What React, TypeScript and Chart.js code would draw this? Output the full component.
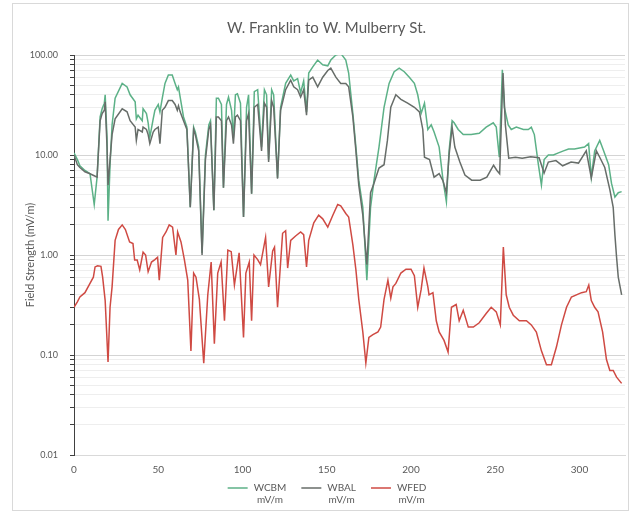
import { useEffect, useRef } from 'react';
import { Chart, registerables } from 'chart.js';

Chart.register(...registerables);

const chartTitle = 'W. Franklin to W. Mulberry St.';
const yAxisTitle = 'Field Strength (mV/m)';
const seriesNames = ['WCBM', 'WBAL', 'WFED'];
const unitLabel = 'mV/m';
const seriesColors = ['#5cb187', '#676d69', '#cf4a43'];
const xTickValues = [0, 50, 100, 150, 200, 250, 300];
const yDecades = [0.01, 0.1, 1, 10, 100];
const yMinorMultipliers = [2, 3, 4, 5, 6, 7, 8, 9];

const wcbmX = [
  0, 2, 3.5, 6.5, 9.5, 12, 13.7, 15.5, 16.7, 18, 18.5, 19.6, 20.2, 21.4, 22.6, 24.4, 28.6, 31.5, 33.3, 36.3,
  37, 38, 40.5, 41, 43, 44, 45, 47, 48, 50, 51, 52.4, 54, 56, 58.3, 60, 61.3, 62, 63, 65,
  67, 69, 71, 72, 74, 76, 78, 80, 81, 83, 84.5, 85.7, 87.5, 88.7, 90.5, 91.7, 93.5, 94.6, 95.8, 97,
  98.8, 100.6, 102.4, 103.6, 105.4, 107, 109, 111.3, 113, 114.3, 115.5, 117.3, 118.5, 120.8, 122.6, 125.6, 128.6, 130.4, 132.7, 134.5,
  136.3, 138, 139.3, 141.7, 144.6, 147.6, 150.6, 152.4, 155.4, 158.3, 161.3, 163, 165.5, 167.3, 169, 171.4, 173.8, 176, 178, 181,
  184, 187, 190, 193, 196, 199, 202, 204, 206, 208, 210, 212, 213.7, 216.7, 219, 221, 222.6, 224.4, 225.6, 228,
  231, 235.7, 240.5, 244.6, 248.8, 250.6, 252.4, 254.2, 255.4, 257.7, 259.5, 262.5, 266.7, 269.6, 271.4, 273.2, 275.6, 277.4, 279, 281.5,
  284.5, 287.5, 290.5, 293.5, 297, 303, 305.4, 307, 309, 312, 314.3, 317.3, 319, 321, 323, 325,
];
const wcbmY = [
  10.5, 9, 7.8, 7.0, 6.5, 3.2, 6, 24, 29, 33, 40, 15, 2.2, 8, 20, 37, 52, 48, 40, 34,
  23, 25, 22, 29, 26, 21, 15, 23, 28, 32, 27, 37, 52, 63, 63, 52, 45, 48, 38, 24,
  19, 3.0, 19, 17, 12, 1.05, 10, 20, 22, 2.8, 37, 37, 32, 4.7, 32, 38, 28, 15, 40, 41,
  33, 2.4, 30, 40, 4.1, 43, 45, 12, 45, 40, 9, 45, 40, 5.9, 30, 52, 63, 55, 58, 42,
  55, 27, 66, 76, 89, 80, 78, 89, 100, 104, 89, 66, 26, 12, 5.6, 3.0, 0.56, 3.0, 5.5, 12,
  30, 52, 68, 74, 68, 60, 52, 40, 26, 33, 18, 20, 17, 12, 5.6, 3.4, 11, 22, 21, 18,
  16, 16, 16.5, 19, 21, 19, 9.5, 71, 30, 20, 18, 19, 18, 18, 19, 16, 8, 5.0, 9, 10,
  10, 10.5, 11, 11.5, 11.5, 12, 13, 6.0, 11, 14, 11, 8, 5.2, 3.8, 4.2, 4.3,
];

const wbalX = [
  0, 2, 3.5, 6.5, 9.5, 12, 13.7, 15.5, 16.7, 18, 18.5, 19.6, 20.2, 21.4, 22.6, 24.4, 28.6, 31.5, 33.3, 36.3,
  37, 38, 40.5, 41, 43, 44, 45, 47, 48, 50, 51, 52.4, 54, 56, 58.3, 60, 61.3, 62, 63, 65,
  67, 69, 71, 72, 74, 76, 78, 80, 81, 83, 84.5, 85.7, 87.5, 88.7, 90.5, 91.7, 93.5, 94.6, 95.8, 97,
  98.8, 100.6, 102.4, 103.6, 105.4, 107, 109, 111.3, 113, 114.3, 115.5, 117.3, 118.5, 120.8, 122.6, 125.6, 128.6, 130.4, 132.7, 134.5,
  136.3, 138, 139.3, 141.7, 144.6, 147.6, 150.6, 152.4, 155.4, 158.3, 161.3, 163, 165.5, 167.3, 169, 171.4, 173.8, 176, 178, 181,
  184, 186, 188, 191, 194, 198, 202, 205, 207, 208, 211, 213.7, 216.7, 219, 221, 222.6, 224.4, 226, 229, 232,
  236, 241, 245, 249, 251, 252.6, 254.6, 256, 258, 262, 266, 271, 276, 279, 281.5, 286, 290, 295, 299.4, 304,
  307, 310, 312, 315, 318, 320, 321, 322, 323, 325,
];
const wbalY = [
  10, 8, 7.5, 6.8, 6.5, 6.2, 6.0, 22, 26, 28, 34, 12, 5, 9, 16, 23, 29, 27, 22, 19,
  14, 18, 17, 19, 18, 16, 13, 17, 18, 19, 13, 28, 30, 35, 35, 32, 28, 31, 27, 22,
  18, 3.0, 18, 16, 11, 1.0, 9, 18, 20, 2.8, 24, 24, 22, 4.7, 22, 24, 20, 13, 24, 25,
  22, 2.4, 22, 26, 4.1, 30, 32, 11, 33, 30, 8.5, 35, 30, 5.8, 28, 45, 56, 48, 45, 38,
  45, 25, 56, 60, 48, 60, 70, 74, 60, 52, 52, 48, 24, 11, 5, 2.5, 0.8, 4.2, 5.2, 7.4,
  8, 14, 30, 40, 36, 33, 30, 27, 18, 9.5, 9, 6, 6.5, 5.5, 4.2, 10, 19, 12, 8.5, 6.3,
  5.6, 5.6, 6, 7.9, 7, 6.5, 66, 20, 9.3, 9.5, 9.3, 9.6, 9.4, 6.6, 8.5, 8.8, 7.8, 8.5, 8.3, 11,
  5.9, 11, 9.5, 7.5, 4.5, 3.0, 1.6, 0.95, 0.6, 0.4,
];

const wfedX = [
  0, 2, 3.5, 6.5, 9.5, 11.5, 12.5, 14, 16, 17, 18.5, 20.2, 21.4, 22.6, 24.4, 26.4, 28.6, 30.5, 33, 35,
  36, 37.5, 39, 41, 42.5, 44, 46, 48, 49.6, 50.6, 52.6, 54.6, 56.5, 58.5, 60.5, 61.5, 63.5, 65.5, 67.5, 69.4,
  71, 72.4, 74.4, 77, 79.4, 81.4, 83.3, 85.3, 87.3, 89.3, 91.3, 93.3, 95.2, 98, 100.6, 102, 104, 105.4, 106.8, 109,
  110.7, 113.7, 115.5, 117.9, 119, 120.8, 123.8, 125.6, 126.8, 128.6, 131.5, 134.5, 136.3, 138, 139.3, 142.3, 145.2, 147.6, 150.6, 153.6,
  156.5, 158.3, 161.3, 163, 165.5, 167.3, 169, 171.4, 173.2, 175, 177.4, 180.4, 182, 184, 186.3, 188, 189.3, 191, 194, 197,
  200, 202, 204, 206, 207.7, 210, 210.7, 213, 215, 216.7, 219.6, 222, 224, 226.8, 228.6, 231, 234, 237, 240.5, 244.6,
  247.6, 250.6, 253, 254.8, 256.5, 258.3, 260.7, 264.3, 268.5, 271.4, 274.4, 277.4, 280.4, 283.3, 286.3, 289.3, 292.3, 295.2, 301.2, 304,
  305.5, 307, 309, 311, 313.7, 316, 318, 320, 322, 325,
];
const wfedY = [
  0.30, 0.34, 0.38, 0.42, 0.52, 0.60, 0.76, 0.78, 0.77, 0.60, 0.35, 0.085, 0.30, 0.48, 1.4, 1.8, 2.0, 1.8, 1.35, 1.3,
  0.89, 0.89, 0.71, 1.07, 1.0, 0.68, 0.85, 0.9, 0.95, 0.56, 1.5, 1.7, 2.0, 1.9, 1.0, 1.7, 1.35, 0.9, 0.56, 0.11,
  0.66, 0.6, 0.36, 0.083, 0.4, 0.85, 0.13, 0.66, 0.85, 0.22, 1.12, 1.08, 0.50, 1.05, 0.15, 0.66, 0.85, 0.22, 1.0, 0.9,
  0.8, 1.5, 0.48, 1.1, 1.2, 0.30, 1.65, 1.75, 0.74, 1.4, 1.55, 1.7, 1.6, 0.76, 1.4, 2.1, 2.5, 2.3, 1.9, 2.5,
  3.2, 3.1, 2.6, 2.4, 1.26, 0.71, 0.36, 0.17, 0.083, 0.15, 0.16, 0.17, 0.19, 0.36, 0.56, 0.37, 0.48, 0.52, 0.66, 0.72,
  0.72, 0.62, 0.30, 0.45, 0.74, 0.48, 0.40, 0.42, 0.22, 0.17, 0.14, 0.107, 0.3, 0.32, 0.22, 0.28, 0.19, 0.19, 0.21, 0.26,
  0.30, 0.27, 0.2, 1.2, 0.4, 0.3, 0.25, 0.22, 0.22, 0.2, 0.17, 0.11, 0.08, 0.08, 0.12, 0.2, 0.3, 0.38, 0.42, 0.43,
  0.5, 0.35, 0.3, 0.27, 0.17, 0.09, 0.07, 0.07, 0.06, 0.052,
];

const seriesX = [wcbmX, wbalX, wfedX];
const seriesY = [wcbmY, wbalY, wfedY];
const drawOrder = [2, 1, 0];

const yTickValues: number[] = [];
yDecades.forEach((d, i) => {
  yTickValues.push(d);
  if (i < yDecades.length - 1) {
    yMinorMultipliers.forEach((m) => yTickValues.push(Number((d * m).toPrecision(3))));
  }
});
const isDecade = (v: number) => yDecades.some((d) => Math.abs(d - v) < d * 1e-6);

const FONT_FAMILY = 'Lato, "Open Sans", sans-serif';

const framePlugin = {
  id: 'frame',
  beforeDraw(chart: any) {
    const { ctx, width, height } = chart;
    ctx.save();
    ctx.fillStyle = '#ffffff';
    ctx.fillRect(0, 0, width, height);
    ctx.strokeStyle = '#d9d9d9';
    ctx.lineWidth = 1;
    ctx.strokeRect(12.5, 3.5, 616, 507);
    ctx.restore();
  },
};

// Two-line legend (series name with unit underneath), centred under the chart.
const twoLineLegendPlugin = {
  id: 'twoLineLegend',
  afterDraw(chart: any) {
    const { ctx } = chart;
    const lineLen = 20;
    const gapAfterLine = 6;
    const gapBetween = 15;
    const centerX = 327;
    const y1 = 488;
    const y2 = 500;
    ctx.save();
    ctx.font = `10px ${FONT_FAMILY}`;
    const items = chart.data.datasets.map((ds: any) => {
      const nameW = ctx.measureText(ds.label).width;
      const unitW = ctx.measureText(unitLabel).width;
      const textW = Math.max(nameW, unitW);
      return { ds, nameW, textW, w: lineLen + gapAfterLine + textW };
    });
    const total = items.reduce((s: number, it: any) => s + it.w, 0) + gapBetween * (items.length - 1);
    let x = centerX - total / 2;
    ctx.textBaseline = 'middle';
    items.forEach((it: any) => {
      ctx.strokeStyle = it.ds.borderColor;
      ctx.lineWidth = 1.5;
      ctx.beginPath();
      ctx.moveTo(x, y1);
      ctx.lineTo(x + lineLen, y1);
      ctx.stroke();
      const tx = x + lineLen + gapAfterLine;
      ctx.fillStyle = '#595959';
      ctx.textAlign = 'left';
      ctx.fillText(it.ds.label, tx, y1);
      ctx.textAlign = 'center';
      ctx.fillText(unitLabel, tx + it.nameW / 2, y2);
      x += it.w + gapBetween;
    });
    ctx.restore();
  },
};

export default function App() {
  const canvasRef = useRef<HTMLCanvasElement | null>(null);

  useEffect(() => {
    if (!canvasRef.current) return;
    Chart.defaults.font.family = FONT_FAMILY;
    const chart = new Chart(canvasRef.current, {
      type: 'line',
      data: {
        datasets: seriesNames.map((name, i) => ({
          label: name,
          data: seriesX[i].map((x, j) => ({ x, y: seriesY[i][j] })),
          borderColor: seriesColors[i],
          backgroundColor: seriesColors[i],
          borderWidth: 1.5,
          pointRadius: 0,
          tension: 0,
          fill: false,
          order: drawOrder[i],
        })),
      },
      options: {
        animation: false,
        responsive: false,
        layout: { padding: { left: 28, right: 8, top: 0, bottom: 38 } },
        plugins: {
          title: {
            display: true,
            text: chartTitle,
            color: '#595959',
            font: { size: 15, weight: 'normal' },
            padding: { top: 19, bottom: 18 },
          },
          legend: { display: false },
          tooltip: { enabled: false },
        },
        scales: {
          x: {
            type: 'linear',
            min: 0,
            max: 327,
            afterBuildTicks: (s: any) => {
              s.ticks = xTickValues.map((v) => ({ value: v }));
            },
            afterFit: (s: any) => {
              s.height = 22;
            },
            grid: { display: false, drawTicks: false },
            border: { display: true, color: '#d9d9d9' },
            ticks: { color: '#595959', font: { size: 10 }, padding: 9, maxRotation: 0, autoSkip: false },
          },
          y: {
            type: 'logarithmic',
            min: 0.01,
            max: 100,
            afterBuildTicks: (s: any) => {
              s.ticks = yTickValues.map((v) => ({ value: v, major: isDecade(v) }));
            },
            afterFit: (s: any) => {
              s.width = 46;
            },
            grid: {
              color: (ctx: any) => (ctx.tick && isDecade(ctx.tick.value) ? '#d4d4d4' : '#eeeeee'),
              tickColor: '#404040',
              tickLength: 4,
              drawTicks: true,
            },
            border: { display: true, color: '#404040' },
            ticks: {
              color: '#595959',
              font: { size: 9 },
              padding: 12,
              autoSkip: false,
              callback: (v: any) => (isDecade(Number(v)) ? Number(v).toFixed(2) : ''),
            },
            title: {
              display: true,
              text: yAxisTitle,
              color: '#595959',
              font: { size: 11 },
              padding: { top: -4, bottom: 0 },
            },
          },
        },
      },
      plugins: [framePlugin, twoLineLegendPlugin],
    } as any);
    return () => chart.destroy();
  }, []);

  return (
    <div style={{ position: 'absolute', left: 0, top: 0, width: 633, height: 515 }}>
      <canvas ref={canvasRef} width={633} height={515} style={{ width: 633, height: 515 }} />
    </div>
  );
}
